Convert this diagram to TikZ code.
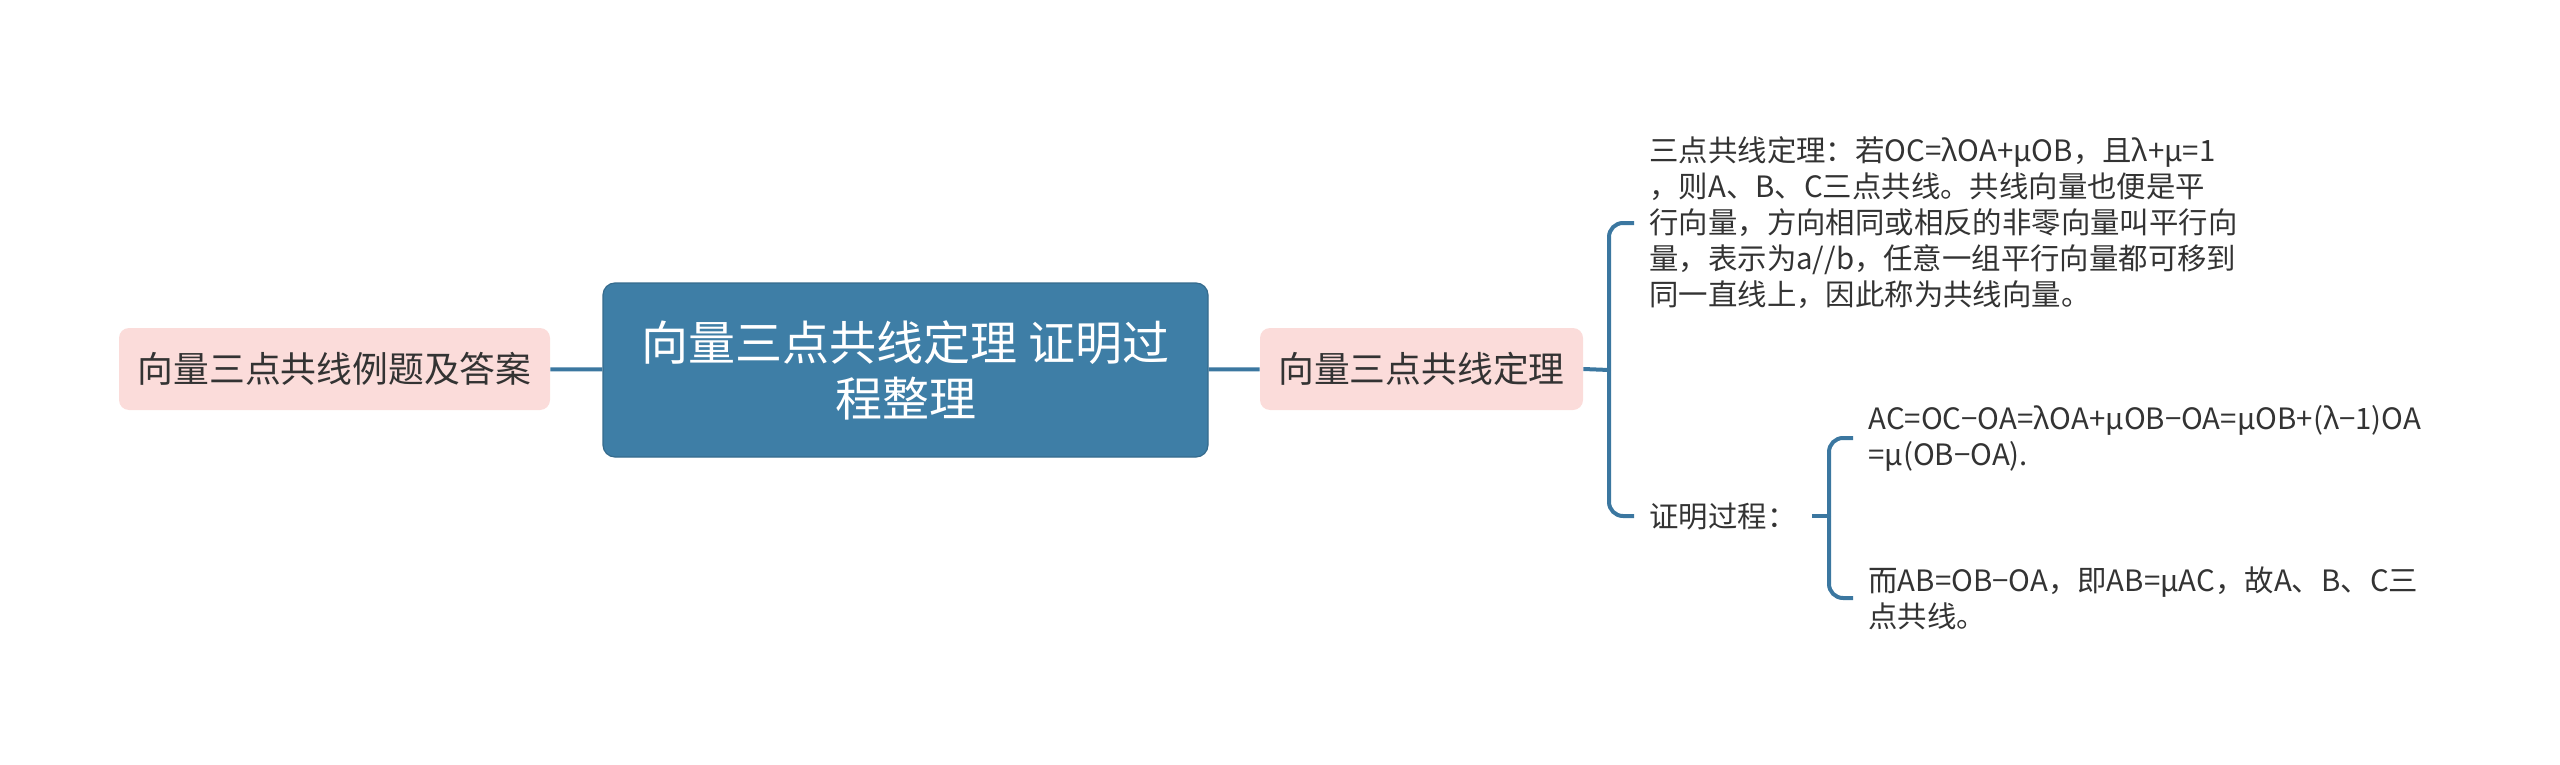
\documentclass[tikz,border=0pt]{standalone}
\usepackage{fontspec}
\setmainfont{Noto Sans CJK SC}
\definecolor{mapblue}{HTML}{3E7EA6}
\definecolor{mapline}{HTML}{3B77A0}
\definecolor{mappink}{HTML}{FBDCDA}
\definecolor{maptext}{HTML}{333333}
\tikzset{
  topic/.style={draw=mapblue!85!black, fill=mapblue, rounded corners=6pt, text=white, align=center, line width=0.6pt, font=\fontsize{23.5}{28}\selectfont},
  subtopic/.style={fill=mappink, rounded corners=5pt, text=maptext, minimum height=41pt, font=\fontsize{17.9}{22}\selectfont},
  leaf/.style={text=maptext, align=left, anchor=west, inner xsep=7.5pt, inner ysep=0pt, font=\fontsize{14.7}{18}\selectfont},
  branch/.style={draw=mapline, line width=2pt},
  bracket/.style={branch, rounded corners=7pt}
}
\begin{document}
\begin{tikzpicture}[x=0.5pt, y=-0.5pt]
    \useasboundingbox (0,0) rectangle (2560,765);

    % Nodos principales
    \node (main) at (905.5,370) [topic, minimum width=302.5pt, minimum height=87pt]
    {向量三点共线定理 证明过\\程整理};

    \node (examples) at (334.5,369) [subtopic, minimum width=215.5pt] {向量三点共线例题及答案};

    \node (theorem) at (1421.5,369) [subtopic, minimum width=161.5pt] {向量三点共线定理};

    % Hojas
    \node (statement) at (1634,223) [leaf]
    {三点共线定理：若OC=λOA+μOB，且λ+μ=1\\
     ，则A、B、C三点共线。共线向量也便是平\\
     行向量，方向相同或相反的非零向量叫平行向\\
     量，表示为a//b，任意一组平行向量都可移到\\
     同一直线上，因此称为共线向量。};

    \node (proof) at (1634,516) [leaf] {证明过程：};

    \node (step1) at (1853,438) [leaf]
    {AC=OC−OA=λOA+μOB−OA=μOB+(λ−1)OA\\=μ(OB−OA).};

    \node (step2) at (1853,598) [leaf]
    {而AB=OB−OA，即AB=μAC，故A、B、C三\\点共线。};

    \coordinate (fork1) at (1609,370);
    \coordinate (fork2) at (1829,516);

    % Conexiones
    \draw[branch] (examples) -- (main);
    \draw[branch] (main) -- (theorem);
    \draw[branch] (theorem.east) -- (fork1);
    \draw[bracket] (fork1) |- (statement.west);
    \draw[bracket] (fork1) |- (proof.west);
    \draw[branch] (proof.east) -- (fork2);
    \draw[bracket] (fork2) |- (step1.west);
    \draw[bracket] (fork2) |- (step2.west);
\end{tikzpicture}
\end{document}
